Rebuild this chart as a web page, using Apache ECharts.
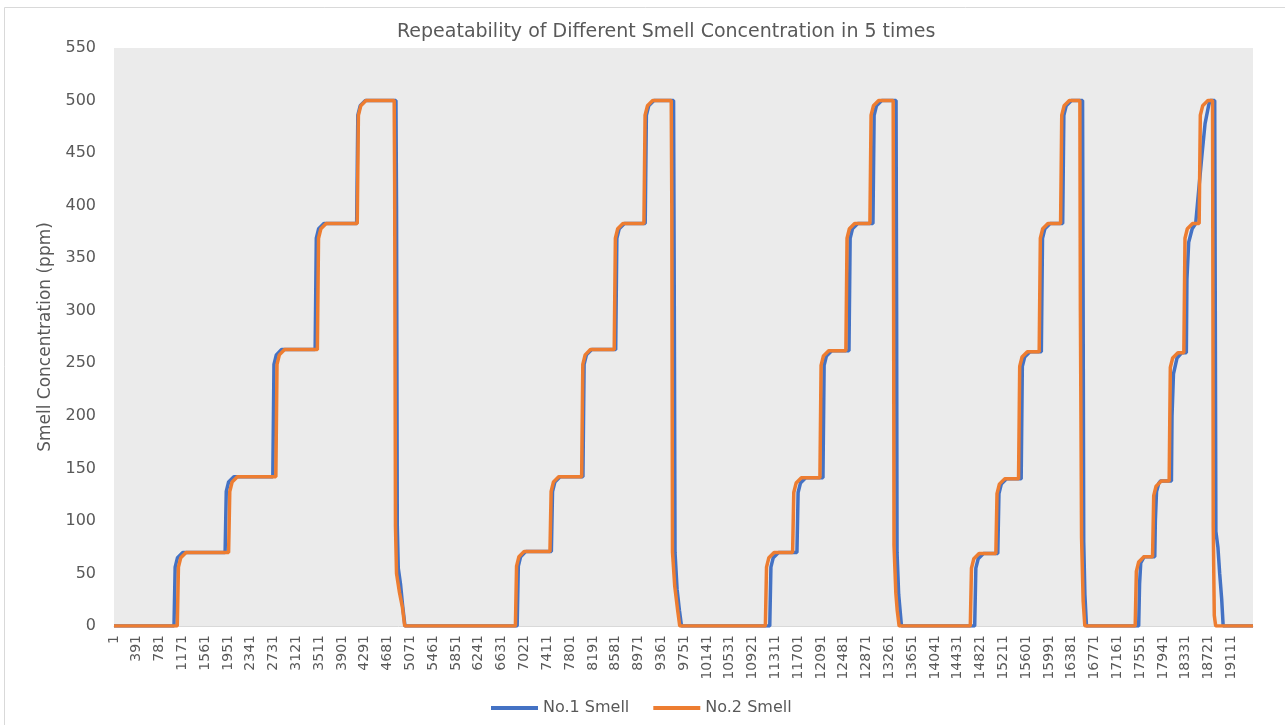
<!DOCTYPE html>
<html>
<head>
<meta charset="utf-8">
<script src="https://cdn.jsdelivr.net/npm/echarts@6/dist/echarts.min.js"></script>
<style>
  html, body { margin: 0; padding: 0; background: #fff; }
  #Smell { width: 1285px; height: 725px; }
</style>
</head>
<body>
<div id="Smell"></div>
<script>
// sample index (x) -> concentration ppm (y) at the turning points
const no1Smell = [
  [0, 0],
  [1026, 0], [1046, 56], [1086, 65], [1176, 70],
  [1900, 70], [1920, 128], [1960, 137], [2050, 142],
  [2716, 142], [2736, 249], [2776, 258], [2866, 263],
  [3440, 263], [3460, 369], [3500, 378], [3590, 383],
  [4150, 383], [4170, 486], [4210, 495], [4300, 500],
  [4822, 500], [4832, 400], [4845, 95], [4862, 55], [4900, 40], [4935, 20], [4976, 0],

  [6895, 0], [6915, 57], [6955, 66], [7045, 71],
  [7480, 71], [7500, 128], [7540, 137], [7630, 142],
  [8020, 142], [8040, 249], [8080, 258], [8170, 263],
  [8580, 263], [8600, 369], [8640, 378], [8730, 383],
  [9085, 383], [9105, 486], [9145, 495], [9235, 500],
  [9570, 500], [9580, 350], [9595, 70], [9630, 35], [9670, 15], [9706, 0],

  [11215, 0], [11235, 56], [11275, 65], [11365, 70],
  [11680, 70], [11700, 127], [11740, 136], [11830, 141],
  [12125, 141], [12145, 248], [12185, 257], [12275, 262],
  [12570, 262], [12590, 369], [12630, 378], [12720, 383],
  [12980, 383], [13000, 486], [13040, 495], [13130, 500],
  [13375, 500], [13385, 300], [13392, 70], [13420, 30], [13468, 0],

  [14720, 0], [14740, 55], [14780, 64], [14870, 69],
  [15115, 69], [15135, 126], [15175, 135], [15265, 140],
  [15515, 140], [15535, 247], [15575, 256], [15665, 261],
  [15860, 261], [15880, 369], [15920, 378], [16010, 383],
  [16225, 383], [16245, 486], [16285, 495], [16375, 500],
  [16565, 500], [16575, 300], [16585, 80], [16605, 30], [16632, 0],

  [17525, 0], [17540, 40], [17560, 60], [17620, 66],
  [17800, 66], [17810, 100], [17830, 128], [17870, 136], [17900, 138],
  [18085, 138], [18095, 200], [18120, 240], [18180, 255], [18260, 260],
  [18340, 260], [18350, 330], [18380, 365], [18440, 378], [18500, 383],
  [18520, 383], [18560, 420], [18610, 450], [18660, 478], [18720, 495], [18745, 500],
  [18825, 500], [18835, 300], [18845, 90], [18880, 75], [18910, 50], [18945, 25], [18970, 0],
  [19480, 0]
];

const no2Smell = [
  [0, 0],
  [1082, 0], [1102, 56], [1142, 65], [1232, 70],
  [1960, 70], [1980, 128], [2020, 137], [2110, 142],
  [2768, 142], [2788, 249], [2828, 258], [2918, 263],
  [3478, 263], [3498, 369], [3538, 378], [3628, 383],
  [4160, 383], [4180, 486], [4220, 495], [4310, 500],
  [4792, 500], [4800, 420], [4814, 95], [4832, 50], [4882, 32], [4932, 18], [4972, 0],

  [6865, 0], [6885, 57], [6925, 66], [7015, 71],
  [7456, 71], [7476, 128], [7516, 137], [7606, 142],
  [7998, 142], [8018, 249], [8058, 258], [8148, 263],
  [8555, 263], [8575, 369], [8615, 378], [8705, 383],
  [9063, 383], [9083, 486], [9123, 495], [9213, 500],
  [9530, 500], [9540, 400], [9552, 70], [9590, 38], [9640, 15], [9676, 0],

  [11140, 0], [11160, 56], [11200, 65], [11290, 70],
  [11606, 70], [11626, 127], [11666, 136], [11756, 141],
  [12073, 141], [12093, 248], [12133, 257], [12223, 262],
  [12517, 262], [12537, 369], [12577, 378], [12667, 383],
  [12928, 383], [12948, 486], [12988, 495], [13078, 500],
  [13326, 500], [13334, 300], [13340, 77], [13372, 31], [13395, 15], [13428, 0],

  [14645, 0], [14665, 55], [14705, 64], [14795, 69],
  [15082, 69], [15102, 126], [15142, 135], [15232, 140],
  [15470, 140], [15490, 247], [15530, 256], [15620, 261],
  [15823, 261], [15843, 369], [15883, 378], [15973, 383],
  [16189, 383], [16209, 486], [16249, 495], [16339, 500],
  [16519, 500], [16528, 300], [16548, 84], [16575, 24], [16604, 0],

  [17465, 0], [17485, 52], [17525, 61], [17615, 66],
  [17762, 66], [17782, 124], [17822, 133], [17912, 138],
  [18046, 138], [18066, 246], [18106, 255], [18196, 260],
  [18297, 260], [18317, 369], [18357, 378], [18447, 383],
  [18559, 383], [18579, 486], [18619, 495], [18709, 500],
  [18788, 500], [18795, 300], [18800, 94], [18818, 10], [18842, 0],
  [19480, 0]
];

const seriesNames = ['No.1 Smell', 'No.2 Smell'];
const sampleCount = 19480;
const xLabelStep = 390;   // labels 1, 391, 781 ...
const yMax = 550;
const yStep = 50;

const textColor = '#595959';
const font = 'DejaVu Sans';

const myChart = echarts.init(document.getElementById('Smell'));
const option = {
  animation: false,
  backgroundColor: '#fff',
  title: {
    text: 'Repeatability of Different Smell Concentration in 5 times',
    left: 392,
    top: 18,
    textStyle: { fontFamily: font, fontSize: 19, fontWeight: 'normal', color: textColor }
  },
  legend: {
    data: seriesNames,
    left: 486,
    top: 695,
    icon: 'rect',
    itemWidth: 47,
    itemHeight: 4,
    itemGap: 24,
    textStyle: { fontFamily: font, fontSize: 16, color: textColor }
  },
  grid: {
    left: 114,
    top: 48,
    right: 32,
    bottom: 99,
    show: true,
    backgroundColor: '#EBEBEB',
    borderWidth: 0
  },
  xAxis: {
    type: 'value',
    min: 0,
    max: sampleCount,
    interval: xLabelStep,
    axisLine: { show: true, lineStyle: { color: '#D9D9D9', width: 1 } },
    axisTick: { show: false },
    splitLine: { show: false },
    axisLabel: {
      rotate: 90,
      margin: 9,
      fontFamily: font,
      fontSize: 14,
      color: textColor,
      showMaxLabel: false,
      formatter: function (v) {
        return v % xLabelStep === 0 ? String(v + 1) : '';
      }
    }
  },
  yAxis: {
    type: 'value',
    min: 0,
    max: yMax,
    interval: yStep,
    name: 'Smell Concentration (ppm)',
    nameLocation: 'middle',
    nameRotate: 90,
    nameGap: 59,
    nameTextStyle: { fontFamily: font, fontSize: 17, color: textColor },
    axisLine: { show: false },
    axisTick: { show: false },
    splitLine: { show: false },
    axisLabel: { margin: 18, fontFamily: font, fontSize: 16, color: textColor }
  },
  series: [
    {
      name: seriesNames[0],
      type: 'line',
      data: no1Smell,
      showSymbol: false,
      color: '#4472C4',
      lineStyle: { color: '#4472C4', width: 3.5 }
    },
    {
      name: seriesNames[1],
      type: 'line',
      data: no2Smell,
      showSymbol: false,
      color: '#ED7D31',
      lineStyle: { color: '#ED7D31', width: 3.5 }
    }
  ],
  graphic: [
    {
      type: 'rect',
      silent: true,
      shape: { x: 4.5, y: 7.5, width: 1300, height: 800 },
      style: { fill: 'none', stroke: '#D9D9D9', lineWidth: 1 }
    }
  ]
};
myChart.setOption(option, true);
</script>
</body>
</html>
